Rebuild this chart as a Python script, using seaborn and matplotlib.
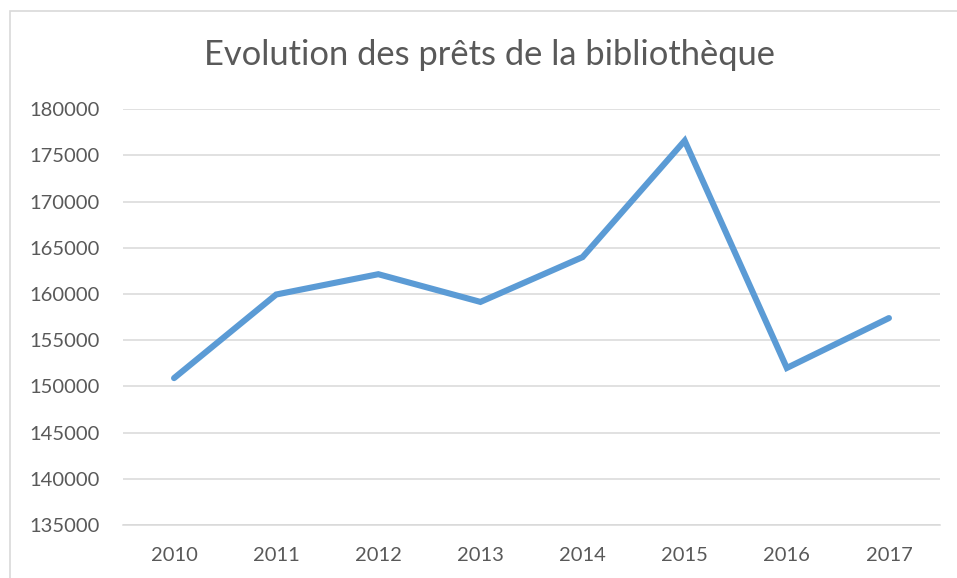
import pandas as pd
import seaborn as sns
import matplotlib.pyplot as plt
from matplotlib.patches import Rectangle

# Données
annees = ["2010", "2011", "2012", "2013", "2014", "2015", "2016", "2017"]
prets = [150900, 159950, 162150, 159150, 164000, 176600, 152000, 157400]
y_ticks = [135000, 140000, 145000, 150000, 155000, 160000, 165000, 170000, 175000, 180000]

df = pd.DataFrame({"annee": annees, "prets": prets})

sns.set_theme(style="white")
plt.rcParams["font.family"] = ["Lato", "DejaVu Sans"]

gris = "#595959"
W, H = 957, 578
fig = plt.figure(figsize=(W / 100, H / 100), dpi=100)
ax = fig.add_axes([123 / W, 1 - 525 / H, (940 - 123) / W, (525 - 109.3) / H])

sns.lineplot(data=df, x="annee", y="prets", ax=ax, color="#5b9bd5",
             linewidth=4.4, solid_capstyle="round", solid_joinstyle="miter", sort=False)

ax.set_xlim(-0.5, len(annees) - 0.5)
ax.set_ylim(y_ticks[0], y_ticks[-1])
ax.set_yticks(y_ticks)
ax.set_yticklabels([str(v) for v in y_ticks])
ax.yaxis.grid(True, color="#d9d9d9", linewidth=1.1)
ax.set_axisbelow(True)
for s in ax.spines.values():
    s.set_visible(False)
ax.spines["bottom"].set_visible(True)
ax.spines["bottom"].set_color("#d9d9d9")
ax.spines["bottom"].set_linewidth(1.1)
ax.tick_params(axis="y", length=0, pad=17, labelsize=14.5, labelcolor=gris)
ax.tick_params(axis="x", length=0, pad=16, labelsize=14.5, labelcolor=gris)
ax.set_xlabel("")
ax.set_ylabel("")

fig.text(490 / W, 1 - 55 / H, "Evolution des prêts de la bibliothèque",
         ha="center", va="center", fontsize=24.8, color=gris)

# cadre du graphique (coupé à droite et en bas)
fig.patches.append(Rectangle((10 / W, -0.1), 1.2, 1 - 11 / H + 0.1, transform=fig.transFigure,
                             fill=False, edgecolor="#d9d9d9", linewidth=1.2))

fig.savefig("out.png", dpi=100)
